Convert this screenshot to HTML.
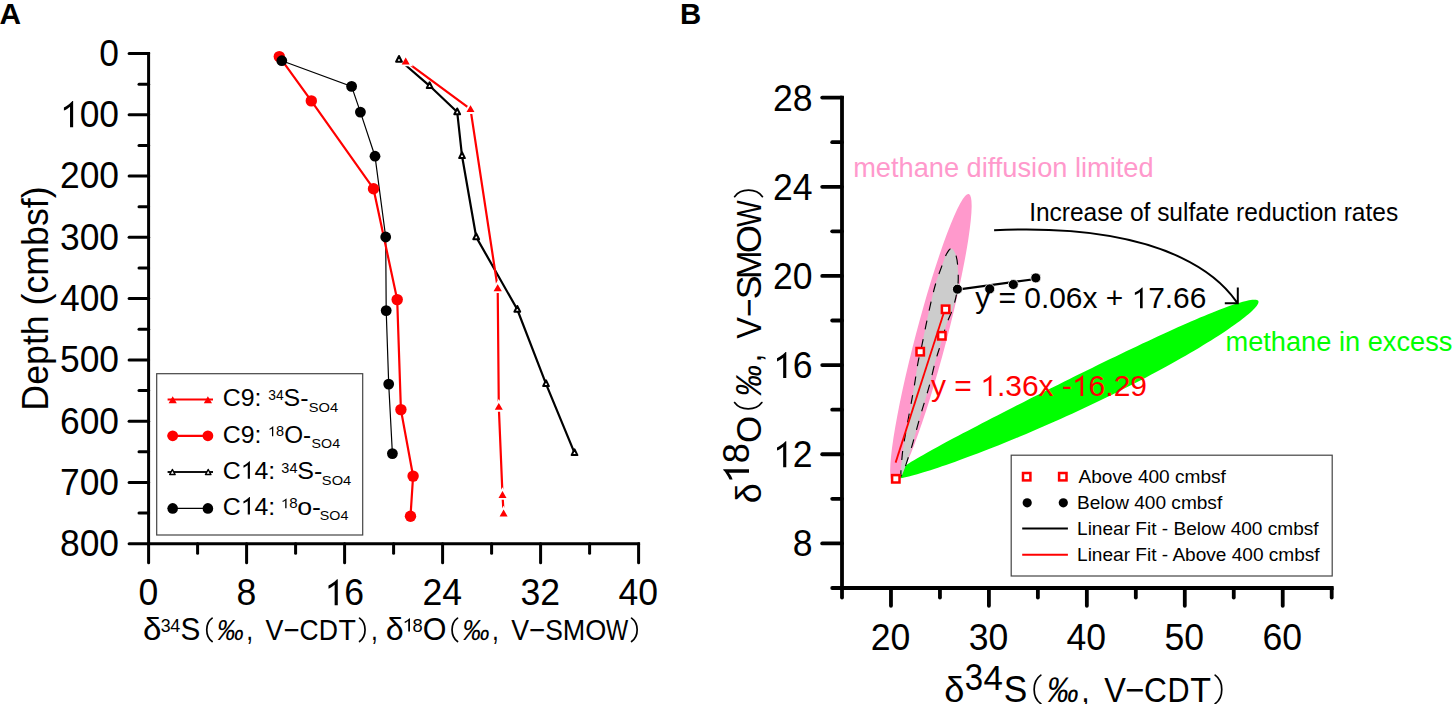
<!DOCTYPE html><html><head><meta charset="utf-8"><style>html,body{margin:0;padding:0;background:#fff;overflow:hidden;}svg{display:block;}text{font-family:"Liberation Sans",sans-serif;}</style></head><body>
<svg width="1452" height="704" viewBox="0 0 1452 704">
<rect width="1452" height="704" fill="#fff"/>
<text transform="translate(-0.55,23.75) scale(1.0051,1)" font-size="29.7" font-weight="bold" >A</text>
<text transform="translate(679.92,23.90) scale(0.9781,1)" font-size="30" font-weight="bold" >B</text>
<g stroke="#000" stroke-width="3" stroke-linecap="round" fill="none">
<path d="M148.6,53.5 V543.70 H638.6" stroke-linejoin="miter" stroke-linecap="square"/>
<path d="M129.1,53.50 H148.6"/>
<path d="M129.1,114.78 H148.6"/>
<path d="M129.1,176.05 H148.6"/>
<path d="M129.1,237.33 H148.6"/>
<path d="M129.1,298.60 H148.6"/>
<path d="M129.1,359.88 H148.6"/>
<path d="M129.1,421.15 H148.6"/>
<path d="M129.1,482.43 H148.6"/>
<path d="M129.1,543.70 H148.6"/>
<path d="M139.0,84.14 H148.6"/>
<path d="M139.0,145.41 H148.6"/>
<path d="M139.0,206.69 H148.6"/>
<path d="M139.0,267.96 H148.6"/>
<path d="M139.0,329.24 H148.6"/>
<path d="M139.0,390.51 H148.6"/>
<path d="M139.0,451.79 H148.6"/>
<path d="M139.0,513.06 H148.6"/>
<path d="M148.60,543.70 V562.8"/>
<path d="M246.60,543.70 V562.8"/>
<path d="M344.60,543.70 V562.8"/>
<path d="M442.60,543.70 V562.8"/>
<path d="M540.60,543.70 V562.8"/>
<path d="M638.60,543.70 V562.8"/>
<path d="M197.60,543.70 V553.3"/>
<path d="M295.60,543.70 V553.3"/>
<path d="M393.60,543.70 V553.3"/>
<path d="M491.60,543.70 V553.3"/>
<path d="M589.60,543.70 V553.3"/>
</g>
<text transform="translate(119.0,65.90) scale(0.97,1)" font-size="36.5" text-anchor="end">0</text>
<text transform="translate(119.0,127.18) scale(0.97,1)" font-size="36.5" text-anchor="end"> 00</text><path transform="translate(119.0,127.18) scale(0.97,1) translate(-60.875,0.000) scale(0.017822,-0.017822)" d="M763,0 L583,0 L583,1147 C540,1106 484,1064 415,1024 C346,984 284,954 229,934 L229,1108 C312,1147 404,1203 504,1276 C604,1349 675,1412 717,1466 L763,1466 Z" fill="#000"/>
<text transform="translate(119.0,188.45) scale(0.97,1)" font-size="36.5" text-anchor="end">200</text>
<text transform="translate(119.0,249.73) scale(0.97,1)" font-size="36.5" text-anchor="end">300</text>
<text transform="translate(119.0,311.00) scale(0.97,1)" font-size="36.5" text-anchor="end">400</text>
<text transform="translate(119.0,372.27) scale(0.97,1)" font-size="36.5" text-anchor="end">500</text>
<text transform="translate(119.0,433.55) scale(0.97,1)" font-size="36.5" text-anchor="end">600</text>
<text transform="translate(119.0,494.82) scale(0.97,1)" font-size="36.5" text-anchor="end">700</text>
<text transform="translate(119.0,556.10) scale(0.97,1)" font-size="36.5" text-anchor="end">800</text>
<text transform="translate(148.30,605.3) scale(0.975,1)" font-size="36.5" text-anchor="middle">0</text>
<text transform="translate(246.30,605.3) scale(0.975,1)" font-size="36.5" text-anchor="middle">8</text>
<text transform="translate(344.30,605.3) scale(0.975,1)" font-size="36.5" text-anchor="middle"> 6</text><path transform="translate(344.30,605.3) scale(0.975,1) translate(-20.291,0.000) scale(0.017822,-0.017822)" d="M763,0 L583,0 L583,1147 C540,1106 484,1064 415,1024 C346,984 284,954 229,934 L229,1108 C312,1147 404,1203 504,1276 C604,1349 675,1412 717,1466 L763,1466 Z" fill="#000"/>
<text transform="translate(442.30,605.3) scale(0.975,1)" font-size="36.5" text-anchor="middle">24</text>
<text transform="translate(540.30,605.3) scale(0.975,1)" font-size="36.5" text-anchor="middle">32</text>
<text transform="translate(638.30,605.3) scale(0.975,1)" font-size="36.5" text-anchor="middle">40</text>
<text transform="translate(48.3,0) rotate(-90) translate(-410.65,0.00) scale(0.9925,1)" font-size="36" >Depth (cmbsf)</text>
<text transform="translate(143.09,640.40) scale(1.0719,1)" font-size="31" >δ</text>
<text transform="translate(160.63,631.60) scale(0.9462,1)" font-size="18.8" >3</text>
<text transform="translate(170.19,631.60) scale(0.9585,1)" font-size="18.8" >4</text>
<text transform="translate(180.46,640.40) scale(0.9593,1)" font-size="31" >S</text>
<path d="M212.15,618.15 C204.95,623.30 204.95,636.40 212.15,641.55" fill="none" stroke="#000" stroke-width="1.7" stroke-linecap="round"/>
<text transform="translate(215.66,640.00) skewX(-9) scale(0.9307,1)" font-size="29" >‰</text>
<text transform="translate(246.33,640.00) scale(0.8500,1)" font-size="29" >,</text>
<text transform="translate(265.57,640.00) scale(0.9283,1)" font-size="29" >V</text>
<text transform="translate(283.63,640.00) scale(0.9456,1)" font-size="29" >−</text>
<text transform="translate(299.48,640.00) scale(0.9105,1)" font-size="29" >C</text>
<text transform="translate(318.70,640.00) scale(0.9195,1)" font-size="29" >D</text>
<text transform="translate(338.56,640.00) scale(0.9826,1)" font-size="29" >T</text>
<path d="M359.55,618.15 C366.88,623.30 366.88,636.40 359.55,641.55" fill="none" stroke="#000" stroke-width="1.7" stroke-linecap="round"/>
<text transform="translate(370.88,640.00) scale(0.8500,1)" font-size="29" >,</text>
<text transform="translate(385.63,640.40) scale(1.0377,1)" font-size="31" >δ</text>
<text transform="translate(402.43,631.60) scale(1.0812,1)" font-size="18.8" > </text><path transform="translate(402.43,631.60) scale(1.0812,1) translate(0.000,0.000) scale(0.009180,-0.009180)" d="M763,0 L583,0 L583,1147 C540,1106 484,1064 415,1024 C346,984 284,954 229,934 L229,1108 C312,1147 404,1203 504,1276 C604,1349 675,1412 717,1466 L763,1466 Z" fill="#000"/>
<text transform="translate(412.62,631.60) scale(0.9733,1)" font-size="18.8" >8</text>
<text transform="translate(422.75,640.40) scale(0.9831,1)" font-size="31" >O</text>
<path d="M457.55,618.15 C450.22,623.30 450.22,636.40 457.55,641.55" fill="none" stroke="#000" stroke-width="1.7" stroke-linecap="round"/>
<text transform="translate(461.35,640.00) skewX(-9) scale(0.9416,1)" font-size="29" >‰</text>
<text transform="translate(491.98,640.00) scale(0.8500,1)" font-size="29" >,</text>
<text transform="translate(511.27,640.00) scale(0.9230,1)" font-size="29" >V</text>
<text transform="translate(529.22,640.00) scale(0.9527,1)" font-size="29" >−</text>
<text transform="translate(545.31,640.00) scale(0.9115,1)" font-size="29" >S</text>
<text transform="translate(562.78,640.00) scale(0.9299,1)" font-size="29" >M</text>
<text transform="translate(585.31,640.00) scale(0.9347,1)" font-size="29" >O</text>
<text transform="translate(606.08,640.00) scale(0.8114,1)" font-size="29" >W</text>
<path d="M631.55,618.15 C639.02,623.30 639.02,636.40 631.55,641.55" fill="none" stroke="#000" stroke-width="1.7" stroke-linecap="round"/>
<polyline points="281.8,60.7 351.6,86.4 360.4,112.1 375,156.2 385.7,237 386.2,310.6 388.7,384.1 392.4,453.6" fill="none" stroke="#000" stroke-width="1.2"/>
<polyline points="279.3,56.6 311.3,100.9 373.5,188.7 397.2,299.6 400.9,409.6 413.1,476.1 410.5,516.3" fill="none" stroke="#f00" stroke-width="2.2"/>
<polyline points="399.0,59.5 429.6,85.8 457.2,112 462,155.8 476.2,237 517.3,309.5 546,383.8 574.5,452.8" fill="none" stroke="#000" stroke-width="2.2"/>
<polyline points="405.7,61.4 470.5,109 497.7,288.1 498.8,406.7 502.5,494.9 503.6,513.4" fill="none" stroke="#f00" stroke-width="2.2"/>
<circle cx="279.3" cy="56.6" r="5.7" fill="#f00"/>
<circle cx="311.3" cy="100.9" r="5.7" fill="#f00"/>
<circle cx="373.5" cy="188.7" r="5.7" fill="#f00"/>
<circle cx="397.2" cy="299.6" r="5.7" fill="#f00"/>
<circle cx="400.9" cy="409.6" r="5.7" fill="#f00"/>
<circle cx="413.1" cy="476.1" r="5.7" fill="#f00"/>
<circle cx="410.5" cy="516.3" r="5.7" fill="#f00"/>
<circle cx="281.8" cy="60.7" r="5.4" fill="#000"/>
<circle cx="351.6" cy="86.4" r="5.4" fill="#000"/>
<circle cx="360.4" cy="112.1" r="5.4" fill="#000"/>
<circle cx="375" cy="156.2" r="5.4" fill="#000"/>
<circle cx="385.7" cy="237" r="5.4" fill="#000"/>
<circle cx="386.2" cy="310.6" r="5.4" fill="#000"/>
<circle cx="388.7" cy="384.1" r="5.4" fill="#000"/>
<circle cx="392.4" cy="453.6" r="5.4" fill="#000"/>
<path d="M400.00,65.40 L405.70,55.60 L411.40,65.40 Z" fill="#f00" stroke="#fff" stroke-width="1.9" stroke-linejoin="miter"/>
<path d="M464.80,113.00 L470.50,103.20 L476.20,113.00 Z" fill="#f00" stroke="#fff" stroke-width="1.9" stroke-linejoin="miter"/>
<path d="M492.00,292.10 L497.70,282.30 L503.40,292.10 Z" fill="#f00" stroke="#fff" stroke-width="1.9" stroke-linejoin="miter"/>
<path d="M493.10,410.70 L498.80,400.90 L504.50,410.70 Z" fill="#f00" stroke="#fff" stroke-width="1.9" stroke-linejoin="miter"/>
<path d="M496.80,498.90 L502.50,489.10 L508.20,498.90 Z" fill="#f00" stroke="#fff" stroke-width="1.9" stroke-linejoin="miter"/>
<path d="M497.90,517.40 L503.60,507.60 L509.30,517.40 Z" fill="#f00" stroke="#fff" stroke-width="1.9" stroke-linejoin="miter"/>
<path d="M396.10,61.80 L399.00,56.00 L401.90,61.80 Z" fill="#fff" stroke="#000" stroke-width="2.0" stroke-linejoin="round"/>
<path d="M426.70,88.10 L429.60,82.30 L432.50,88.10 Z" fill="#fff" stroke="#000" stroke-width="2.0" stroke-linejoin="round"/>
<path d="M454.30,114.30 L457.20,108.50 L460.10,114.30 Z" fill="#fff" stroke="#000" stroke-width="2.0" stroke-linejoin="round"/>
<path d="M459.10,158.10 L462.00,152.30 L464.90,158.10 Z" fill="#fff" stroke="#000" stroke-width="2.0" stroke-linejoin="round"/>
<path d="M473.30,239.30 L476.20,233.50 L479.10,239.30 Z" fill="#fff" stroke="#000" stroke-width="2.0" stroke-linejoin="round"/>
<path d="M514.40,311.80 L517.30,306.00 L520.20,311.80 Z" fill="#fff" stroke="#000" stroke-width="2.0" stroke-linejoin="round"/>
<path d="M543.10,386.10 L546.00,380.30 L548.90,386.10 Z" fill="#fff" stroke="#000" stroke-width="2.0" stroke-linejoin="round"/>
<path d="M571.60,455.10 L574.50,449.30 L577.40,455.10 Z" fill="#fff" stroke="#000" stroke-width="2.0" stroke-linejoin="round"/>
<rect x="156.7" y="373.7" width="206" height="161.3" fill="none" stroke="#444" stroke-width="1.2"/>
<line x1="167.6" y1="399.5" x2="213" y2="399.5" stroke="#f00" stroke-width="2.2"/>
<path d="M168.60,403.30 L172.70,396.30 L176.80,403.30 Z" fill="#f00"/>
<path d="M203.80,403.30 L207.90,396.30 L212.00,403.30 Z" fill="#f00"/>
<line x1="167.6" y1="435.8" x2="213" y2="435.8" stroke="#f00" stroke-width="2.2"/>
<circle cx="172.7" cy="435.8" r="5.4" fill="#f00"/>
<circle cx="207.9" cy="435.8" r="5.4" fill="#f00"/>
<line x1="167.6" y1="472.0" x2="213" y2="472.0" stroke="#111" stroke-width="2"/>
<path d="M169.70,474.50 L172.40,469.50 L175.10,474.50 Z" fill="#fff" stroke="#000" stroke-width="1.5" stroke-linejoin="round"/>
<path d="M205.50,474.50 L208.20,469.50 L210.90,474.50 Z" fill="#fff" stroke="#000" stroke-width="1.5" stroke-linejoin="round"/>
<line x1="167.6" y1="508.4" x2="213" y2="508.4" stroke="#000" stroke-width="1.3"/>
<circle cx="172.7" cy="508.4" r="5.3" fill="#000"/>
<circle cx="207.9" cy="508.4" r="5.3" fill="#000"/>
<text transform="translate(222.76,406.10) scale(1.0154,1)" font-size="24.5" >C9:</text>
<text transform="translate(268.28,399.80) scale(1.0055,1)" font-size="13.8" >34</text>
<text transform="translate(283.58,406.10) scale(1.0182,1)" font-size="24.5" >S-</text>
<text transform="translate(308.74,411.80) scale(1.0796,1)" font-size="13.6" >SO4</text>
<text transform="translate(222.76,442.50) scale(1.0154,1)" font-size="24.5" >C9:</text>
<text transform="translate(267.89,436.20) scale(1.0464,1)" font-size="13.8" > 8</text><path transform="translate(267.89,436.20) scale(1.0464,1) translate(0.000,0.000) scale(0.006738,-0.006738)" d="M763,0 L583,0 L583,1147 C540,1106 484,1064 415,1024 C346,984 284,954 229,934 L229,1108 C312,1147 404,1203 504,1276 C604,1349 675,1412 717,1466 L763,1466 Z" fill="#000"/>
<text transform="translate(284.15,442.50) scale(0.9908,1)" font-size="24.5" >O-</text>
<text transform="translate(311.56,448.20) scale(1.0491,1)" font-size="13.6" >SO4</text>
<text transform="translate(222.76,478.80) scale(1.0139,1)" font-size="24.5" >C 4:</text><path transform="translate(222.76,478.80) scale(1.0139,1) translate(17.674,0.000) scale(0.011963,-0.011963)" d="M763,0 L583,0 L583,1147 C540,1106 484,1064 415,1024 C346,984 284,954 229,934 L229,1108 C312,1147 404,1203 504,1276 C604,1349 675,1412 717,1466 L763,1466 Z" fill="#000"/>
<text transform="translate(281.36,472.50) scale(1.0471,1)" font-size="13.8" >34</text>
<text transform="translate(297.27,478.80) scale(1.0227,1)" font-size="24.5" >S-</text>
<text transform="translate(321.84,484.50) scale(1.0796,1)" font-size="13.6" >SO4</text>
<text transform="translate(222.76,514.60) scale(1.0139,1)" font-size="24.5" >C 4:</text><path transform="translate(222.76,514.60) scale(1.0139,1) translate(17.674,0.000) scale(0.011963,-0.011963)" d="M763,0 L583,0 L583,1147 C540,1106 484,1064 415,1024 C346,984 284,954 229,934 L229,1108 C312,1147 404,1203 504,1276 C604,1349 675,1412 717,1466 L763,1466 Z" fill="#000"/>
<text transform="translate(280.92,508.30) scale(1.0919,1)" font-size="13.8" > 8</text><path transform="translate(280.92,508.30) scale(1.0919,1) translate(0.000,0.000) scale(0.006738,-0.006738)" d="M763,0 L583,0 L583,1147 C540,1106 484,1064 415,1024 C346,984 284,954 229,934 L229,1108 C312,1147 404,1203 504,1276 C604,1349 675,1412 717,1466 L763,1466 Z" fill="#000"/>
<text transform="translate(297.26,514.60) scale(1.0918,1)" font-size="24.5" >o-</text>
<text transform="translate(319.86,520.30) scale(1.0491,1)" font-size="13.6" >SO4</text>
<g stroke="#000" stroke-width="3.8" stroke-linecap="round" fill="none">
<path d="M842.0,97.62 V588.0 H1331.70" stroke-linejoin="miter" stroke-linecap="square"/>
<path d="M822.2,543.42 H842.0"/>
<path d="M822.2,454.26 H842.0"/>
<path d="M822.2,365.10 H842.0"/>
<path d="M822.2,275.94 H842.0"/>
<path d="M822.2,186.78 H842.0"/>
<path d="M822.2,97.62 H842.0"/>
<path d="M832.2,588.00 H842.0"/>
<path d="M832.2,498.84 H842.0"/>
<path d="M832.2,409.68 H842.0"/>
<path d="M832.2,320.52 H842.0"/>
<path d="M832.2,231.36 H842.0"/>
<path d="M832.2,142.20 H842.0"/>
<path d="M890.97,588.0 V605.8"/>
<path d="M988.91,588.0 V605.8"/>
<path d="M1086.85,588.0 V605.8"/>
<path d="M1184.79,588.0 V605.8"/>
<path d="M1282.73,588.0 V605.8"/>
<path d="M842.00,588.0 V597.5"/>
<path d="M939.94,588.0 V597.5"/>
<path d="M1037.88,588.0 V597.5"/>
<path d="M1135.82,588.0 V597.5"/>
<path d="M1233.76,588.0 V597.5"/>
<path d="M1331.70,588.0 V597.5"/>
</g>
<text transform="translate(812.6,556.42) scale(0.975,1)" font-size="36.5" text-anchor="end">8</text>
<text transform="translate(812.6,467.26) scale(0.975,1)" font-size="36.5" text-anchor="end"> 2</text><path transform="translate(812.6,467.26) scale(0.975,1) translate(-40.582,0.000) scale(0.017822,-0.017822)" d="M763,0 L583,0 L583,1147 C540,1106 484,1064 415,1024 C346,984 284,954 229,934 L229,1108 C312,1147 404,1203 504,1276 C604,1349 675,1412 717,1466 L763,1466 Z" fill="#000"/>
<text transform="translate(812.6,378.10) scale(0.975,1)" font-size="36.5" text-anchor="end"> 6</text><path transform="translate(812.6,378.10) scale(0.975,1) translate(-40.582,0.000) scale(0.017822,-0.017822)" d="M763,0 L583,0 L583,1147 C540,1106 484,1064 415,1024 C346,984 284,954 229,934 L229,1108 C312,1147 404,1203 504,1276 C604,1349 675,1412 717,1466 L763,1466 Z" fill="#000"/>
<text transform="translate(812.6,288.94) scale(0.975,1)" font-size="36.5" text-anchor="end">20</text>
<text transform="translate(812.6,199.78) scale(0.975,1)" font-size="36.5" text-anchor="end">24</text>
<text transform="translate(812.6,110.62) scale(0.975,1)" font-size="36.5" text-anchor="end">28</text>
<text transform="translate(890.47,649.5) scale(0.975,1)" font-size="36.5" text-anchor="middle">20</text>
<text transform="translate(988.41,649.5) scale(0.975,1)" font-size="36.5" text-anchor="middle">30</text>
<text transform="translate(1086.35,649.5) scale(0.975,1)" font-size="36.5" text-anchor="middle">40</text>
<text transform="translate(1184.29,649.5) scale(0.975,1)" font-size="36.5" text-anchor="middle">50</text>
<text transform="translate(1282.23,649.5) scale(0.975,1)" font-size="36.5" text-anchor="middle">60</text>
<text transform="translate(944.36,701.80) scale(1.0053,1)" font-size="36" >δ</text>
<text transform="translate(964.86,689.60) scale(0.9181,1)" font-size="36" >3</text>
<text transform="translate(983.62,689.60) scale(0.9681,1)" font-size="36" >4</text>
<text transform="translate(1003.71,701.80) scale(0.9672,1)" font-size="36.5" >S</text>
<path d="M1040.85,675.15 C1031.92,681.42 1031.92,697.38 1040.85,703.65" fill="none" stroke="#000" stroke-width="1.7" stroke-linecap="round"/>
<text transform="translate(1045.52,701.80) skewX(-9) scale(0.8910,1)" font-size="35.8" >‰</text>
<text transform="translate(1081.13,701.80) scale(0.8500,1)" font-size="35.8" >,</text>
<text transform="translate(1104.14,701.80) scale(0.9049,1)" font-size="35.8" >V</text>
<text transform="translate(1125.36,701.80) scale(0.9157,1)" font-size="35.8" >−</text>
<text transform="translate(1144.12,701.80) scale(0.8833,1)" font-size="35.8" >C</text>
<text transform="translate(1167.38,701.80) scale(0.8533,1)" font-size="35.8" >D</text>
<text transform="translate(1190.24,701.80) scale(0.9492,1)" font-size="35.8" >T</text>
<path d="M1215.15,675.15 C1223.95,681.42 1223.95,697.38 1215.15,703.65" fill="none" stroke="#000" stroke-width="1.7" stroke-linecap="round"/>
<text transform="translate(761.2,0) rotate(-90) translate(-503.14,0.00) scale(1.0053,1)" font-size="36" >δ</text>
<text transform="translate(761.2,0) rotate(-90) translate(-483.77,-12.20) scale(1.0866,1)" font-size="36" > </text><path transform="translate(761.2,0) rotate(-90) translate(-483.77,-12.20) scale(1.0866,1) translate(0.000,0.000) scale(0.017578,-0.017578)" d="M763,0 L583,0 L583,1147 C540,1106 484,1064 415,1024 C346,984 284,954 229,934 L229,1108 C312,1147 404,1203 504,1276 C604,1349 675,1412 717,1466 L763,1466 Z" fill="#000"/>
<text transform="translate(761.2,0) rotate(-90) translate(-463.34,-12.20) scale(1.0047,1)" font-size="36" >8</text>
<text transform="translate(761.2,0) rotate(-90) translate(-443.06,0.00) scale(0.9687,1)" font-size="36" >O</text>
<text transform="translate(761.2,0) rotate(-90) translate(-398.07,0.00) skewX(-9) scale(0.8827,1)" font-size="36" >‰</text>
<text transform="translate(761.2,0) rotate(-90) translate(-362.22,0.00) scale(0.8500,1)" font-size="36" >,</text>
<text transform="translate(761.2,0) rotate(-90) translate(-338.66,0.00) scale(0.8999,1)" font-size="36" >V</text>
<text transform="translate(761.2,0) rotate(-90) translate(-317.09,0.00) scale(0.8820,1)" font-size="36" >−</text>
<text transform="translate(761.2,0) rotate(-90) translate(-299.20,0.00) scale(0.9903,1)" font-size="36" >S</text>
<text transform="translate(761.2,0) rotate(-90) translate(-279.04,0.00) scale(0.9571,1)" font-size="36" >M</text>
<text transform="translate(761.2,0) rotate(-90) translate(-253.22,0.00) scale(1.0053,1)" font-size="36" >O</text>
<text transform="translate(761.2,0) rotate(-90) translate(-226.64,0.00) scale(0.7784,1)" font-size="36" >W</text>
<path d="M734.60,402.55 C740.60,410.95 755.86,410.95 761.85,402.55" fill="none" stroke="#000" stroke-width="1.7" stroke-linecap="round"/>
<path d="M734.60,196.65 C740.73,187.98 756.32,187.98 762.45,196.65" fill="none" stroke="#000" stroke-width="1.7" stroke-linecap="round"/>
<path d="M1258.35,301.07 L1258.52,301.64 L1258.50,302.31 L1258.31,303.07 L1257.94,303.92 L1257.40,304.87 L1256.68,305.90 L1255.78,307.03 L1254.70,308.24 L1253.45,309.54 L1252.03,310.93 L1250.43,312.39 L1248.67,313.94 L1246.73,315.56 L1244.62,317.27 L1242.35,319.04 L1239.92,320.89 L1237.32,322.81 L1234.57,324.80 L1231.65,326.86 L1228.59,328.97 L1225.37,331.15 L1222.00,333.39 L1218.49,335.68 L1214.83,338.02 L1211.04,340.42 L1207.11,342.86 L1203.05,345.35 L1198.87,347.88 L1194.56,350.44 L1190.13,353.05 L1185.58,355.68 L1180.93,358.35 L1176.16,361.05 L1171.30,363.76 L1166.34,366.50 L1161.28,369.26 L1156.14,372.04 L1150.92,374.83 L1145.62,377.63 L1140.25,380.43 L1134.81,383.24 L1129.30,386.05 L1123.75,388.86 L1118.14,391.67 L1112.48,394.47 L1106.79,397.25 L1101.06,400.03 L1095.31,402.79 L1089.53,405.54 L1083.74,408.26 L1077.93,410.97 L1072.12,413.64 L1066.31,416.29 L1060.51,418.91 L1054.72,421.50 L1048.95,424.06 L1043.20,426.57 L1037.48,429.05 L1031.80,431.49 L1026.16,433.88 L1020.57,436.23 L1015.03,438.54 L1009.55,440.79 L1004.13,443.00 L998.79,445.15 L993.52,447.25 L988.33,449.29 L983.22,451.28 L978.21,453.20 L973.29,455.07 L968.48,456.87 L963.77,458.62 L959.17,460.29 L954.69,461.91 L950.33,463.45 L946.10,464.93 L942.00,466.34 L938.02,467.68 L934.19,468.95 L930.50,470.14 L926.95,471.26 L923.56,472.31 L920.31,473.29 L917.22,474.19 L914.30,475.01 L911.53,475.76 L908.93,476.43 L906.49,477.03 L904.23,477.54 L902.14,477.98 L900.22,478.34 L898.48,478.62 L896.92,478.82 L895.54,478.94 L894.33,478.99 L893.32,478.95 L892.48,478.83 L891.83,478.64 L891.36,478.36 L891.08,478.00 L890.98,477.57 L891.07,477.06 L891.34,476.46 L891.79,475.79 L892.43,475.04 L893.26,474.22 L894.26,473.31 L895.45,472.33 L896.82,471.28 L898.36,470.15 L900.08,468.94 L901.98,467.66 L904.05,466.31 L906.29,464.88 L908.69,463.39 L911.27,461.82 L914.00,460.19 L916.90,458.49 L919.95,456.72 L923.15,454.89 L926.51,452.99 L930.01,451.03 L933.65,449.02 L937.43,446.94 L941.35,444.80 L945.40,442.61 L949.58,440.37 L953.87,438.07 L958.29,435.73 L962.82,433.33 L967.46,430.89 L972.20,428.41 L977.05,425.88 L981.99,423.31 L987.01,420.71 L992.13,418.07 L997.32,415.40 L1002.58,412.70 L1007.92,409.98 L1013.32,407.23 L1018.78,404.45 L1024.29,401.66 L1029.84,398.85 L1035.44,396.02 L1041.08,393.19 L1046.75,390.35 L1052.44,387.50 L1058.15,384.65 L1063.88,381.79 L1069.61,378.95 L1075.35,376.11 L1081.09,373.27 L1086.81,370.45 L1092.53,367.65 L1098.22,364.87 L1103.89,362.10 L1109.54,359.36 L1115.14,356.65 L1120.71,353.97 L1126.22,351.33 L1131.69,348.71 L1137.10,346.14 L1142.45,343.62 L1147.73,341.13 L1152.94,338.70 L1158.08,336.32 L1163.13,333.99 L1168.09,331.71 L1172.97,329.50 L1177.75,327.35 L1182.43,325.26 L1187.00,323.24 L1191.46,321.29 L1195.82,319.41 L1200.05,317.61 L1204.16,315.88 L1208.15,314.23 L1212.01,312.66 L1215.74,311.17 L1219.33,309.76 L1222.78,308.44 L1226.09,307.21 L1229.25,306.07 L1232.27,305.01 L1235.13,304.05 L1237.84,303.18 L1240.39,302.40 L1242.78,301.72 L1245.01,301.13 L1247.07,300.64 L1248.97,300.25 L1250.71,299.95 L1252.27,299.75 L1253.66,299.65 L1254.88,299.64 L1255.93,299.73 L1256.80,299.92 L1257.49,300.20 L1258.01,300.59 Z" fill="#00ff00"/>
<ellipse cx="930.9" cy="338.5" rx="149.3" ry="15.55" transform="rotate(-75.3 930.9 338.5)" fill="#ff99cc"/>
<path d="M901.30,476.00 C900.17,476.00 901.63,461.67 902.20,455.40 C902.77,449.13 903.63,444.80 904.70,438.40 C905.77,432.00 907.43,423.33 908.60,417.00 C909.77,410.67 910.68,406.00 911.70,400.40 C912.72,394.80 913.63,389.80 914.70,383.40 C915.77,377.00 916.90,368.33 918.10,362.00 C919.30,355.67 920.55,351.72 921.90,345.40 C923.25,339.08 924.60,331.67 926.20,324.10 C927.80,316.53 929.87,306.92 931.50,300.00 C933.13,293.08 934.25,288.33 936.00,282.60 C937.75,276.87 940.25,270.37 942.00,265.60 C943.75,260.83 944.95,256.85 946.50,254.00 C948.05,251.15 949.80,248.50 951.30,248.50 C952.80,248.50 954.43,251.15 955.50,254.00 C956.57,256.85 957.27,260.83 957.70,265.60 C958.13,270.37 958.45,277.12 958.10,282.60 C957.75,288.08 956.70,293.60 955.60,298.50 C954.50,303.40 953.00,307.73 951.50,312.00 C950.00,316.27 948.47,318.53 946.60,324.10 C944.73,329.67 942.20,339.08 940.30,345.40 C938.40,351.72 936.92,355.67 935.20,362.00 C933.48,368.33 931.70,377.00 930.00,383.40 C928.30,389.80 926.67,394.80 925.00,400.40 C923.33,406.00 921.82,410.67 920.00,417.00 C918.18,423.33 915.93,432.00 914.10,438.40 C912.27,444.80 911.13,449.13 909.00,455.40 C906.87,461.67 902.43,476.00 901.30,476.00 Z" fill="#cccccc" stroke="#000" stroke-width="1.15" stroke-dasharray="9 10" stroke-dashoffset="3"/>
<line x1="895.6" y1="462.6" x2="946" y2="306" stroke="#f00" stroke-width="1.8"/>
<rect x="892.10" y="475.10" width="7.4" height="7.4" fill="#fff" stroke="#f00" stroke-width="2.5"/>
<rect x="916.50" y="348.00" width="7.4" height="7.4" fill="#fff" stroke="#f00" stroke-width="2.5"/>
<rect x="938.10" y="332.10" width="7.4" height="7.4" fill="#fff" stroke="#f00" stroke-width="2.5"/>
<rect x="941.90" y="305.60" width="7.4" height="7.4" fill="#fff" stroke="#f00" stroke-width="2.5"/>
<line x1="957.4" y1="289.6" x2="1035.8" y2="279" stroke="#000" stroke-width="2.2"/>
<circle cx="957.4" cy="289.2" r="5.0" fill="#000" stroke="#fff" stroke-width="0.8"/>
<circle cx="989.7" cy="288.9" r="5.0" fill="#000" stroke="#fff" stroke-width="0.8"/>
<circle cx="1013.3" cy="284.5" r="5.0" fill="#000" stroke="#fff" stroke-width="0.8"/>
<circle cx="1035.8" cy="277.9" r="5.0" fill="#000" stroke="#fff" stroke-width="0.8"/>
<path d="M994.1,230.3 C1193.2,221.2 1233,298.1 1237.6,303.2" fill="none" stroke="#000" stroke-width="2"/>
<path d="M1237.8,287.6 V303.2 H1224.8" fill="none" stroke="#000" stroke-width="2"/>
<text transform="translate(853.16,177.10) scale(1.0080,1)" font-size="27" fill="#ff99cc">methane diffusion limited</text>
<text transform="translate(1029.13,220.50) scale(0.9726,1)" font-size="25.2" >Increase of sulfate reduction rates</text>
<text transform="translate(975.23,308.20) scale(1.0315,1)" font-size="29" >y = 0.06x +  7.66</text><path transform="translate(975.23,308.20) scale(1.0315,1) translate(151.502,0.000) scale(0.014160,-0.014160)" d="M763,0 L583,0 L583,1147 C540,1106 484,1064 415,1024 C346,984 284,954 229,934 L229,1108 C312,1147 404,1203 504,1276 C604,1349 675,1412 717,1466 L763,1466 Z" fill="#000"/>
<text transform="translate(931.02,396.00) scale(1.0350,1)" font-size="29" fill="#f00">y =  .36x - 6.29</text><path transform="translate(931.02,396.00) scale(1.0350,1) translate(47.521,0.000) scale(0.014160,-0.014160)" d="M763,0 L583,0 L583,1147 C540,1106 484,1064 415,1024 C346,984 284,954 229,934 L229,1108 C312,1147 404,1203 504,1276 C604,1349 675,1412 717,1466 L763,1466 Z" fill="#f00"/><path transform="translate(931.02,396.00) scale(1.0350,1) translate(136.144,0.000) scale(0.014160,-0.014160)" d="M763,0 L583,0 L583,1147 C540,1106 484,1064 415,1024 C346,984 284,954 229,934 L229,1108 C312,1147 404,1203 504,1276 C604,1349 675,1412 717,1466 L763,1466 Z" fill="#f00"/>
<text transform="translate(1225.46,350.70) scale(1.0083,1)" font-size="27" fill="#00ff00">methane in excess</text>
<rect x="1011.2" y="455.2" width="321" height="120.8" fill="#fff" stroke="#444" stroke-width="1.2"/>
<rect x="1023.00" y="473.00" width="7.4" height="7.4" fill="none" stroke="#f00" stroke-width="2.5"/>
<circle cx="1027.2" cy="502.8" r="4.6" fill="#000"/>
<rect x="1059.10" y="473.00" width="7.4" height="7.4" fill="none" stroke="#f00" stroke-width="2.5"/>
<circle cx="1063.3" cy="502.8" r="4.6" fill="#000"/>
<line x1="1022.2" y1="528.5" x2="1067.9" y2="528.5" stroke="#000" stroke-width="2"/>
<line x1="1022.2" y1="554.75" x2="1067.9" y2="554.75" stroke="#f00" stroke-width="2"/>
<text transform="translate(1078.55,483.00) scale(1.0000,1)" font-size="19.07" >Above 400 cmbsf</text>
<text transform="translate(1077.03,509.00) scale(1.0000,1)" font-size="19.07" >Below 400 cmbsf</text>
<text transform="translate(1077.03,535.10) scale(1.0000,1)" font-size="19.07" >Linear Fit - Below 400 cmbsf</text>
<text transform="translate(1077.03,561.20) scale(1.0000,1)" font-size="19.07" >Linear Fit - Above 400 cmbsf</text>
</svg></body></html>
